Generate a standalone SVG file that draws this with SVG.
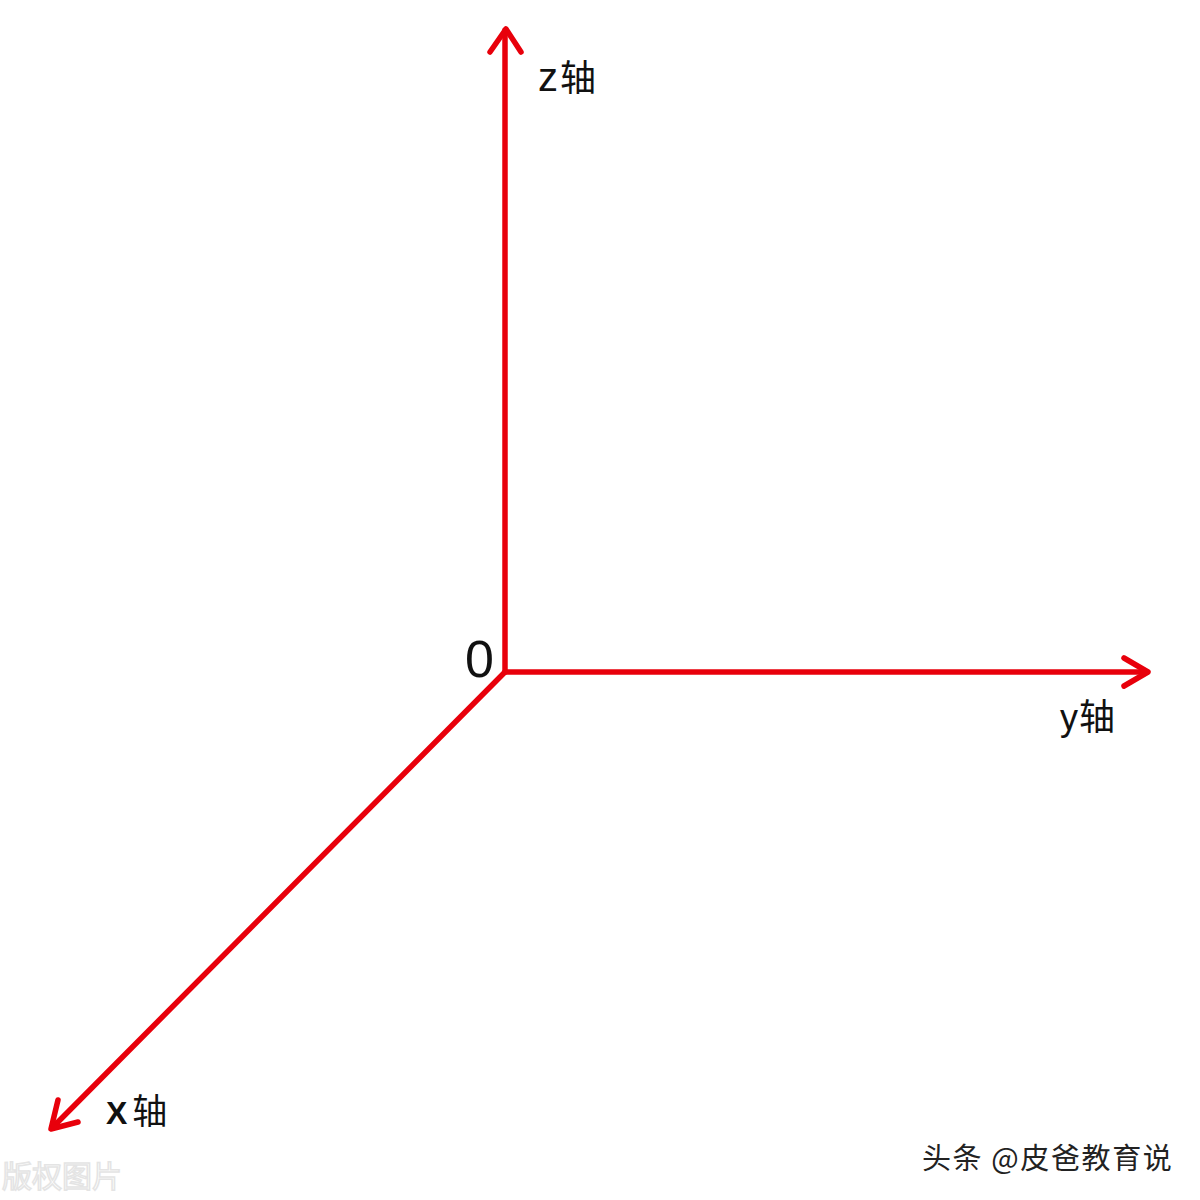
<svg xmlns="http://www.w3.org/2000/svg" width="1200" height="1200" viewBox="0 0 1200 1200">
<style>
.ax{stroke:#e8000b;stroke-width:5.5;fill:none;stroke-linecap:round;stroke-linejoin:round}
.lbl{font-family:"Liberation Sans","Noto Sans CJK SC",sans-serif;fill:#111}
.cjk{font-family:"Noto Sans CJK SC",sans-serif}
</style>
<rect width="1200" height="1200" fill="#fff"/>
<g id="connectors">
<path class="ax" d="M505,672 L505,30"/>
<path class="ax" d="M490,52 L506,29 L521,52"/>
<path class="ax" d="M505,672 L1147,672"/>
<path class="ax" d="M1124,658 L1148,672 L1124,686"/>
<path class="ax" d="M505,672 L52,1128"/>
<path class="ax" d="M58,1100 L51,1129 L78,1122"/>
</g>
<g id="node-z"><text class="lbl" x="538" y="91" font-size="40">z<tspan class="cjk" font-size="36" dx="2">轴</tspan></text></g>
<g id="node-origin"><text class="lbl" x="465" y="677" font-size="52">0</text></g>
<g id="node-y"><text class="lbl" x="1060" y="730" font-size="36">y<tspan class="cjk" dx="1">轴</tspan></text></g>
<g id="node-x"><text class="lbl" x="106" y="1124" font-size="32" font-weight="bold">X<tspan class="cjk" font-size="35" font-weight="normal" dx="5">轴</tspan></text></g>
<g id="watermark">
<text x="923" y="1170" font-size="29" letter-spacing="1.6" class="cjk" fill="#fff" stroke="#fff" stroke-width="3">头条 @皮爸教育说</text>
<text x="922" y="1169" font-size="29" letter-spacing="1.6" class="cjk" fill="#222">头条 @皮爸教育说</text>
<text x="2" y="1187" font-size="30" class="cjk" fill="#fff" stroke="#e4e4e4" stroke-width="1.5">版权图片</text>
</g>
</svg>
